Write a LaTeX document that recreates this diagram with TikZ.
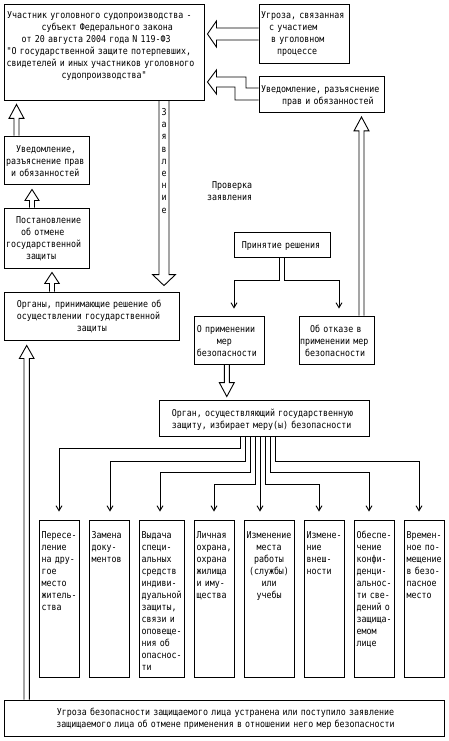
\documentclass[tikz,border=0pt]{standalone}
\usepackage{fontspec}
\newfontfamily\pixfont[FakeStretch=0.874]{DejaVu Sans Mono}
\usetikzlibrary{fit,calc,arrows.meta}
\newcommand\hup[7]{\draw[hollow] let \p1=(#1.north), \p2=(#2.south) in
 ({#3pt-#4pt},\y1) -- ({#3pt-#4pt},{\y2-#6pt-#7pt}) -- ({#3pt-#5pt},{\y2-#6pt-#7pt}) -- (#3pt,{\y2-#6pt}) -- ({#3pt+#5pt},{\y2-#6pt-#7pt}) -- ({#3pt+#4pt},{\y2-#6pt-#7pt}) -- ({#3pt+#4pt},\y1);}
\newcommand\hdown[7]{\draw[hollow] let \p1=(#1.south), \p2=(#2.north) in
 ({#3pt-#4pt},\y1) -- ({#3pt-#4pt},{\y2+#6pt+#7pt}) -- ({#3pt-#5pt},{\y2+#6pt+#7pt}) -- (#3pt,{\y2+#6pt}) -- ({#3pt+#5pt},{\y2+#6pt+#7pt}) -- ({#3pt+#4pt},{\y2+#6pt+#7pt}) -- ({#3pt+#4pt},\y1);}
\begin{document}
\begin{tikzpicture}[x=1pt,y=-1pt,
  box/.style={draw,line width=0.9pt,inner sep=0pt},
  txt/.style={inner sep=0pt,font=\pixfont\fontsize{9.5}{12}\selectfont,text width=260pt,align=left,anchor=base west},
  ctxt/.style={inner sep=0pt,font=\pixfont\fontsize{9.5}{12}\selectfont,align=center,anchor=base},
  hollow/.style={draw,line width=0.9pt,line join=miter},
  conn/.style={draw,line width=0.9pt,-{Straight Barb[length=5pt,width=6pt]}}]
\fill[white] (0,0) rectangle (449,741);
\useasboundingbox (0,0) rectangle (449,741);

% boxes
\node[box,fit={(4,4)(204,100)}] (main) {};
\node[box,fit={(259,4)(349,63)}] (thr) {};
\node[box,fit={(259,76)(384,112)}] (nr) {};
\node[box,fit={(4,136)(89,184)}] (nl) {};
\node[box,fit={(4,208)(89,268)}] (post) {};
\node[box,fit={(4,292)(179,340)}] (orgs) {};
\node[box,fit={(234,232)(330,257)}] (dec) {};
\node[box,fit={(194,316)(264,364)}] (p1) {};
\node[box,fit={(299,316)(374,364)}] (p2) {};
\node[box,fit={(159,400)(369,436)}] (org) {};
\node[box,fit={(39,520)(79,677)}] (b1) {};
\node[box,fit={(89,520)(129,677)}] (b2) {};
\node[box,fit={(139,520)(184,677)}] (b3) {};
\node[box,fit={(194,520)(234,677)}] (b4) {};
\node[box,fit={(244,520)(294,677)}] (b5) {};
\node[box,fit={(304,520)(344,677)}] (b6) {};
\node[box,fit={(354,520)(394,677)}] (b7) {};
\node[box,fit={(404,520)(444,677)}] (b8) {};
\node[box,fit={(4,700)(444,736)}] (bot) {};

% hollow arrows
\draw[hollow] let \p1=(thr.west), \p2=(main.east) in
  (\x1,-28pt) -- ({\x2+12pt},-28pt) -- ({\x2+12pt},-21pt) -- ({\x2+3pt},-34pt) -- ({\x2+12pt},-47pt) -- ({\x2+12pt},-40pt) -- (\x1,-40pt);
\draw[hollow] let \p1=(nr.west), \p2=(main.east) in
  (\x1,-88pt) -- (246pt,-88pt) -- (246pt,-77pt) -- ({\x2+12pt},-77pt) -- ({\x2+12pt},-70pt) -- ({\x2+3pt},-82pt) -- ({\x2+12pt},-94pt) -- ({\x2+12pt},-87pt) -- (235pt,-87pt) -- (235pt,-100pt) -- (\x1,-100pt);
\hup{nl}{main}{16.5}{2.5}{7.5}{4}{14}
\hup{post}{nl}{32}{2.5}{7}{5}{11}
\hup{orgs}{post}{52}{2.5}{7.2}{4}{11}
\hup{bot}{orgs}{26.7}{2.7}{7.3}{5}{13}
\hup{p2}{nr}{361.5}{2.5}{7.5}{4.5}{14}
\hdown{main}{orgs}{164}{5}{11.5}{6}{11}
\hdown{p1}{org}{226.8}{2.5}{7.5}{3}{14}

% thin connectors
\coordinate (dl) at (279,0);
\coordinate (dr) at (284,0);
\coordinate (levd) at (0,280);
\coordinate (pl) at (234,0);
\coordinate (pr) at (339,0);
\draw[conn,shorten >=7pt] (dec.south -| dl) -- (dl |- levd) -- (pl |- levd) -- (pl |- p1.north);
\draw[conn,shorten >=7pt] (dec.south -| dr) -- (dr |- levd) -- (pr |- levd) -- (pr |- p2.north);

\coordinate (s1) at (240,0);
\coordinate (s2) at (245,0);
\coordinate (s3) at (250,0);
\coordinate (s4) at (255,0);
\coordinate (s5) at (260,0);
\coordinate (s6) at (265,0);
\coordinate (s7) at (270,0);
\coordinate (s8) at (275,0);
\coordinate (t1) at (59,0);
\coordinate (t2) at (110,0);
\coordinate (t3) at (160,0);
\coordinate (t4) at (214,0);
\coordinate (t5) at (260,0);
\coordinate (t6) at (319,0);
\coordinate (t7) at (369,0);
\coordinate (t8) at (419,0);
\coordinate (lev1) at (0,448);
\coordinate (lev2) at (0,461);
\coordinate (lev3) at (0,472);
\coordinate (lev4) at (0,484);
\foreach \i/\l in {1/1,2/2,3/3,4/4,6/4,7/3,8/2}
  \draw[conn,shorten >=8pt] (org.south -| s\i) -- (s\i |- lev\l) -- (t\i |- lev\l) -- (t\i |- b\i.north);
\draw[conn,shorten >=8pt] (org.south -| s5) -- (s5 |- b5.north);

% texts
\node[txt] (mt) at (6.5,18.5) {\hspace*{0.5pt}Участник уголовного судопроизводства -\\\hspace*{35pt}субъект Федерального закона\\\hspace*{15pt}от 20 августа 2004 года N 119-ФЗ\\"О государственной защите потерпевших,\\свидетелей и иных участников уголовного\\\hspace*{55pt}судопроизводства"};
\node[txt] (tt) at (261,18.5) {Угроза, связанная\\\hspace*{8pt}с участием\\\hspace*{10pt}в уголовном\\\hspace*{16pt}процессе};
\node[txt] (nrt) at (261,92.5) {Уведомление, разъяснение\\\hspace*{21pt}прав и обязанностей};
\node[txt] (nlt) at (6,152.5) {\hspace*{10pt}Уведомление,\\разъяснение прав\\\hspace*{5pt}и обязанностей};
\node[txt] (pstt) at (6,223) {\hspace*{10pt}Постановление\\\hspace*{15pt}об отмене\\государственной\\\hspace*{20pt}защиты};
\node[txt] (ot) at (16.7,307.5) {Органы, принимающие решение об\\осуществлении государственной\\\hspace*{60pt}защиты};
\node[inner sep=0pt,font=\pixfont\fontsize{9.5}{12.2}\selectfont,text width=10pt,align=center,anchor=base] (zt) at (164,115.5) {З\\а\\я\\в\\л\\е\\н\\и\\е};
\node[txt] (chk) at (207,188.5) {\hspace*{5pt}Проверка\\заявления};
\node[txt] (dect) at (241.7,248.5) {Принятие решения};
\node[txt] (p1t) at (196.7,332) {О применении\\\hspace*{20pt}мер\\безопасности};
\node[txt] (p2t) at (300,332) {\hspace*{10pt}Об отказе в\\применении мер\\\hspace*{5pt}безопасности};
\node[txt] (orgt) at (171.7,416) {Орган, осуществляющий государственную\\защиту, избирает меру(ы) безопасности};
\node[txt] (b1t) at (41.4,538.5) {Пересе-\\ление\\на дру-\\гое\\место\\житель-\\ства};
\node[txt] (b2t) at (91.4,538.5) {Замена\\доку-\\ментов};
\node[txt] (b3t) at (141.4,538.5) {Выдача\\специ-\\альных\\средств\\индиви-\\дуальной\\защиты,\\связи и\\оповеще-\\ния об\\опаснос-\\ти};
\node[txt] (b4t) at (196.4,538.5) {Личная\\охрана,\\охрана\\жилища\\и иму-\\щества};
\node[ctxt,text width=50pt] (b5t) at (269,538.5) {Изменение\\места\\работы\\(службы)\\или\\учебы};
\node[txt] (b6t) at (306.4,538.5) {Измене-\\ние\\внеш-\\ности};
\node[txt] (b7t) at (356.4,538.5) {Обеспе-\\чение\\конфи-\\денци-\\альнос-\\ти све-\\дений о\\защища-\\емом\\лице};
\node[txt] (b8t) at (406.4,538.5) {Времен-\\ное по-\\мещение\\в безо-\\пасное\\место};
\node[ctxt,text width=430pt] (bt) at (225.5,715.5) {Угроза безопасности защищаемого лица устранена или поступило заявление\\защищаемого лица об отмене применения в отношении него мер безопасности};
\end{tikzpicture}
\end{document}
